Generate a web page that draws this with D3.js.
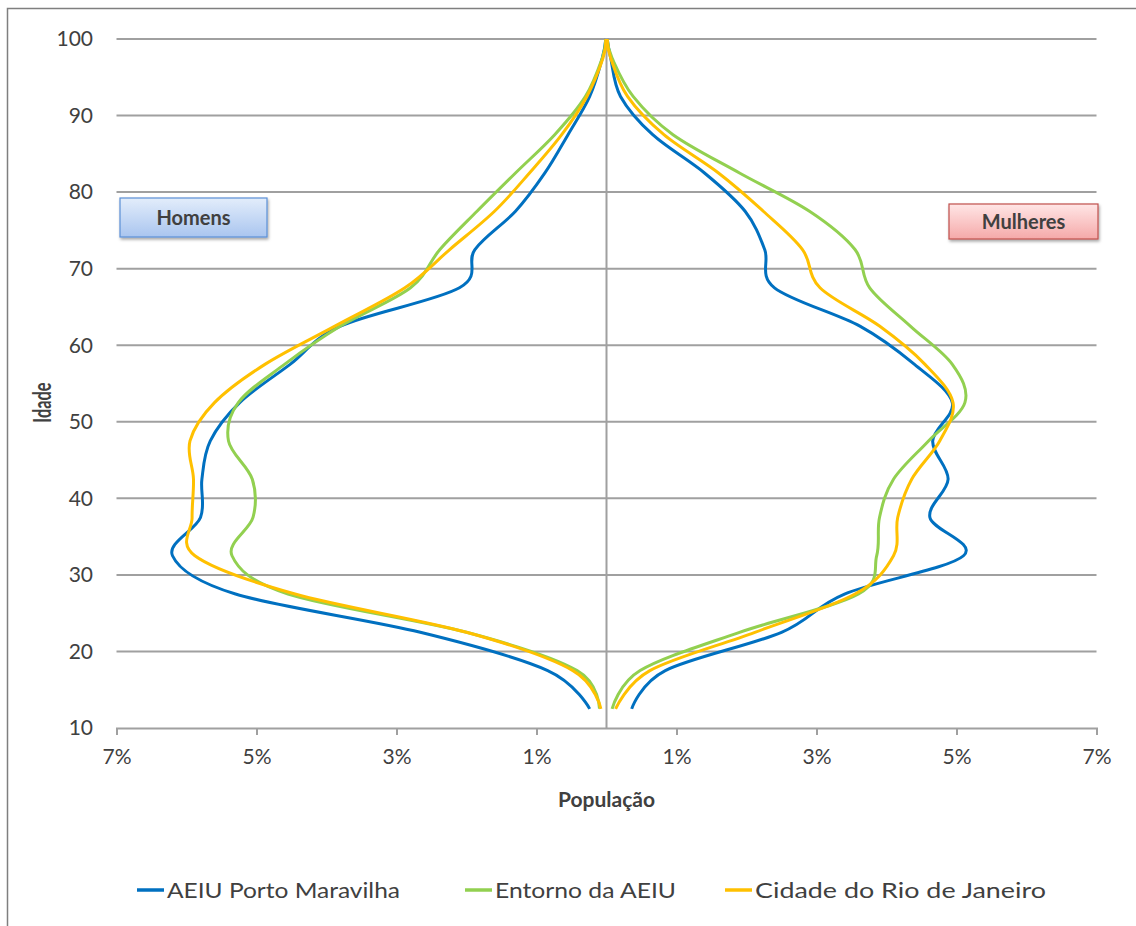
<!DOCTYPE html>
<html>
<head>
<meta charset="utf-8">
<script src="https://cdn.jsdelivr.net/npm/d3@7"></script>
<style>
  body { margin: 0; background: #fff; }
  svg { display: block; }
  text { font-family: Lato, "Open Sans", sans-serif; fill: #404040; }
</style>
</head>
<body>
<svg id="chart" width="1136" height="926"></svg>
<script>
// age group midpoints
const ages = [12.5, 17.5, 22.5, 27.5, 32.5, 37.5, 42.5, 47.5, 52.5, 57.5, 62.5, 67.5, 72.5, 77.5, 82.5, 87.5, 92.5, 97.5, 100];

// % of population, men (left side)
const portoHomens   = [0.24, 0.84, 2.66, 5.3, 6.2, 5.8, 5.78, 5.66, 5.24, 4.52, 3.8, 2.1, 1.88, 1.3, 0.88, 0.55, 0.24, 0.06, 0.01];
const entornoHomens = [0.1, 0.42, 2.0, 4.55, 5.35, 5.05, 5.06, 5.4, 5.26, 4.6, 3.8, 2.8, 2.38, 1.85, 1.3, 0.74, 0.3, 0.06, 0.01];
const cidadeHomens  = [0.08, 0.48, 2.0, 4.45, 5.88, 5.92, 5.9, 5.95, 5.6, 4.88, 3.88, 2.88, 2.24, 1.6, 1.1, 0.64, 0.28, 0.05, 0.01];

// % of population, women (right side)
const portoMulheres   = [0.36, 0.84, 2.5, 3.4, 5.1, 4.62, 4.88, 4.66, 4.94, 4.4, 3.62, 2.4, 2.26, 1.98, 1.4, 0.66, 0.2, 0.06, 0.01];
const entornoMulheres = [0.08, 0.48, 1.9, 3.6, 3.86, 3.9, 4.1, 4.6, 5.12, 4.94, 4.34, 3.76, 3.55, 2.9, 1.9, 0.95, 0.38, 0.08, 0.01];
const cidadeMulheres  = [0.13, 0.62, 2.12, 3.55, 4.1, 4.16, 4.36, 4.76, 4.95, 4.55, 3.9, 3.05, 2.8, 2.24, 1.6, 0.82, 0.3, 0.06, 0.01];

const seriesNames = ["AEIU Porto Maravilha", "Entorno da AEIU", "Cidade do Rio de Janeiro"];
const seriesColors = ["#0070c0", "#92d050", "#ffc000"];

const xTicks = [-7, -5, -3, -1, 1, 3, 5, 7];
const yTicks = [10, 20, 30, 40, 50, 60, 70, 80, 90, 100];

const svg = d3.select("#chart");

// outer frame (cut off by the window at right/bottom)
svg.append("rect")
  .attr("x", 7.5).attr("y", 8.5)
  .attr("width", 1200).attr("height", 1000)
  .attr("fill", "#fff")
  .attr("stroke", "#7f7f7f")
  .attr("stroke-width", 1.5);

const x = d3.scaleLinear().domain([-7, 7]).range([116.5, 1096.5]);
const y = d3.scaleLinear().domain([10, 100]).range([728, 39]);

// horizontal gridlines
svg.append("g")
  .selectAll("line")
  .data(yTicks.slice(1))
  .enter()
  .append("line")
  .attr("x1", x(-7)).attr("x2", x(7))
  .attr("y1", d => y(d)).attr("y2", d => y(d))
  .attr("stroke", "#a0a0a0")
  .attr("stroke-width", 2);

// y labels
svg.append("g")
  .selectAll("text")
  .data(yTicks)
  .enter()
  .append("text")
  .attr("x", 93)
  .attr("y", d => y(d))
  .attr("dy", "0.35em")
  .attr("text-anchor", "end")
  .style("font-size", "21px")
  .text(d => d);

// center axis line
svg.append("line")
  .attr("x1", x(0)).attr("x2", x(0))
  .attr("y1", y(100)).attr("y2", y(10))
  .attr("stroke", "#a0a0a0")
  .attr("stroke-width", 2);

// x axis
const xAxis = svg.append("g")
  .attr("transform", `translate(0,${y(10)})`)
  .call(d3.axisBottom(x).tickValues(xTicks).tickSize(7).tickPadding(14).tickFormat(d => Math.abs(d) + "%"));
xAxis.select(".domain").attr("stroke", "#a0a0a0").attr("stroke-width", 2);
xAxis.selectAll(".tick line").attr("stroke", "#a0a0a0").attr("stroke-width", 2);
xAxis.selectAll(".tick text")
  .style("font-size", "21px")
  .style("font-family", 'Lato, "Open Sans", sans-serif')
  .attr("fill", "#404040");

// axis titles
svg.append("text")
  .attr("x", x(0)).attr("y", 800)
  .attr("dy", "0.35em")
  .attr("text-anchor", "middle")
  .style("font-size", "21px").style("font-weight", "bold")
  .text("População");

svg.append("text")
  .attr("transform", `translate(42,${y(52.5)}) rotate(-90)`)
  .attr("dy", "0.35em")
  .attr("text-anchor", "middle")
  .attr("textLength", 40)
  .attr("lengthAdjust", "spacingAndGlyphs")
  .style("font-size", "25px").style("font-weight", "bold")
  .attr("fill", "#000")
  .text("Idade");

// series lines
const seriesData = [
  [portoHomens, portoMulheres],
  [entornoHomens, entornoMulheres],
  [cidadeHomens, cidadeMulheres]
];

const line = d3.line()
  .x(d => x(d.v))
  .y(d => y(d.age))
  .curve(d3.curveCatmullRom.alpha(0));

seriesData.forEach((pair, i) => {
  const men = ages.map((a, k) => ({ age: a, v: -pair[0][k] }));
  const women = ages.map((a, k) => ({ age: a, v: pair[1][k] }));
  [men, women].forEach(pts => {
    svg.append("path")
      .datum(pts)
      .attr("fill", "none")
      .attr("stroke", seriesColors[i])
      .attr("stroke-width", 3)
      .attr("stroke-linejoin", "round")
      .attr("d", line);
  });
});

// sex labels
const defs = svg.append("defs");
const gradBlue = defs.append("linearGradient").attr("id", "gBlue").attr("x1", 0).attr("y1", 0).attr("x2", 0).attr("y2", 1);
gradBlue.append("stop").attr("offset", "0%").attr("stop-color", "#e3edfb");
gradBlue.append("stop").attr("offset", "100%").attr("stop-color", "#a9c5ef");
const gradRed = defs.append("linearGradient").attr("id", "gRed").attr("x1", 0).attr("y1", 0).attr("x2", 0).attr("y2", 1);
gradRed.append("stop").attr("offset", "0%").attr("stop-color", "#ffe6e6");
gradRed.append("stop").attr("offset", "100%").attr("stop-color", "#f5a9a9");
const shadow = defs.append("filter").attr("id", "shadow").attr("x", "-20%").attr("y", "-20%").attr("width", "140%").attr("height", "160%");
shadow.append("feDropShadow").attr("dx", 1).attr("dy", 2).attr("stdDeviation", 1.5).attr("flood-color", "#000").attr("flood-opacity", 0.35);

const boxes = [
  { label: "Homens", x: 120, y: 198, w: 147, h: 39, fill: "url(#gBlue)", stroke: "#5b8fd6" },
  { label: "Mulheres", x: 949, y: 204, w: 149, h: 35, fill: "url(#gRed)", stroke: "#c0504d" }
];
boxes.forEach(b => {
  svg.append("rect")
    .attr("x", b.x).attr("y", b.y).attr("width", b.w).attr("height", b.h)
    .attr("fill", b.fill).attr("stroke", b.stroke).attr("stroke-width", 1.2)
    .attr("filter", "url(#shadow)");
  svg.append("text")
    .attr("x", b.x + b.w / 2).attr("y", b.y + b.h / 2)
    .attr("dy", "0.35em").attr("text-anchor", "middle")
    .style("font-size", "20px").style("font-weight", "bold")
    .attr("fill", "#1a1a1a")
    .text(b.label);
});

// legend
const legendX = [137, 465, 725];
const legendW = [233, 181, 291];
const legend = svg.append("g");
seriesNames.forEach((name, i) => {
  legend.append("line")
    .attr("x1", legendX[i]).attr("x2", legendX[i] + 27)
    .attr("y1", 890).attr("y2", 890)
    .attr("stroke", seriesColors[i]).attr("stroke-width", 3.5);
  legend.append("text")
    .attr("x", legendX[i] + 30).attr("y", 890)
    .attr("dy", "0.35em")
    .attr("textLength", legendW[i])
    .attr("lengthAdjust", "spacingAndGlyphs")
    .style("font-size", "22px")
    .text(name);
});
</script>
</body>
</html>
